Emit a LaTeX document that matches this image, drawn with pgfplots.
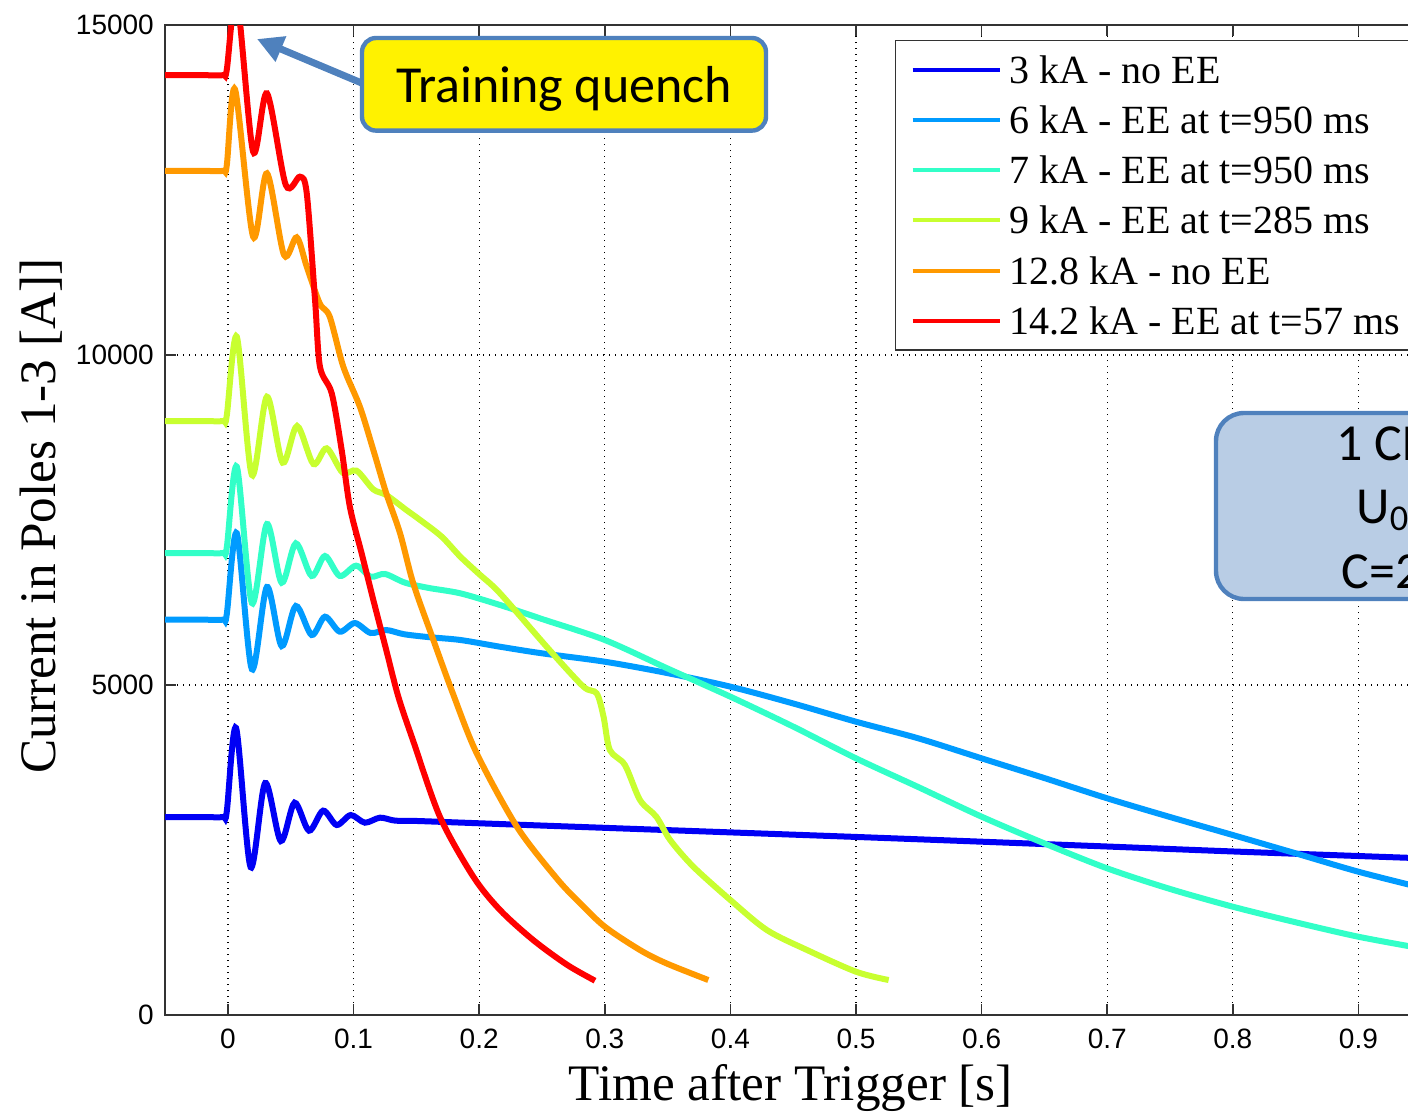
\documentclass[border=0pt]{standalone}
\usepackage{pgfplots}
\pgfplotsset{compat=1.18}
\usepackage{fontspec}
\setmainfont{Liberation Serif}
\newfontfamily\arialf{Liberation Sans}
\newfontfamily\calibri{Carlito}
\usetikzlibrary{arrows.meta}
\definecolor{cA}{RGB}{0,0,245}
\definecolor{cB}{RGB}{0,155,255}
\definecolor{cC}{RGB}{50,255,200}
\definecolor{cD}{RGB}{200,255,48}
\definecolor{cE}{RGB}{255,153,0}
\definecolor{cF}{RGB}{255,0,0}
\definecolor{boxblue}{HTML}{4F81BD}
\definecolor{boxfill}{HTML}{B9CDE5}
\begin{document}
\begin{tikzpicture}
\useasboundingbox (0,0) rectangle (704pt,-556.5pt);
\clip (0,0) rectangle (704pt,-556.5pt);
\begin{axis}[
  at={(82.6pt,-507.5pt)}, anchor=south west,
  scale only axis, width=628pt, height=495pt,
  xmin=-0.05, xmax=0.95, ymin=0, ymax=15000,
  xtick={0,0.1,0.2,0.3,0.4,0.5,0.6,0.7,0.8,0.9},
  xticklabels={0,0.1,0.2,0.3,0.4,0.5,0.6,0.7,0.8,0.9},
  ytick={0,5000,10000,15000},
  yticklabels={0,5000,10000,15000},
  scaled y ticks=false,
  /pgf/number format/assume math mode=true,
  ticklabel style={font=\arialf\fontsize{14}{16}\selectfont},
  xticklabel style={anchor=north, inner sep=0pt, yshift=-7pt},
  yticklabel style={anchor=east, inner sep=0pt, xshift=-5.5pt},
  grid=major,
  grid style={black, line width=0.6pt, dash pattern=on 0.6pt off 2.4pt},
  tick align=inside, major tick length=5.5pt,
  tick style={black!80, line width=0.8pt},
  axis line style={black!80, line width=0.8pt},
  xlabel={Time after Trigger [s]},
  ylabel={Current in Poles 1-3 [A]]},
  label style={font=\fontsize{25.6}{29}\selectfont},
  xlabel style={at={(axis description cs:0.498,-0.0859)}, anchor=base},
  ylabel style={at={(axis description cs:-0.0876,0.504)}, anchor=base},
  legend style={at={(axis description cs:0.581,0.9848)}, anchor=north west,
    draw=black!80, line width=0.7pt, fill=white,
    inner xsep=7.5pt, inner ysep=2pt,
    font=\fontsize{20}{24}\selectfont,
    nodes={inner sep=0pt, text height=19.3pt, text depth=5.8pt},
    column sep=4pt, row sep=0pt},
  legend cell align=left,
  legend image code/.code={\draw[#1, line width=2pt] (0pt,0pt) -- (43.5pt,0pt);},
  every axis plot/.append style={line width=3pt, smooth, tension=0.5},
]
\addplot[cA] table {
-0.05 3000
-0.02 3000
-0.004 3000
-0.001 3080
0.0064 4350
0.018 2240
0.0296 3515
0.042 2636
0.053 3217
0.0645 2793
0.0757 3096
0.0865 2879
0.0977 3030
0.109 2914
0.121 2990
0.133 2945
0.15 2940
0.2 2905
0.3 2836
0.4 2767
0.5 2698
0.6 2626
0.7 2553
0.8 2478
0.9 2409
0.95 2375
};
\addlegendentry{3 kA - no EE}
\addplot[cB] table {
-0.05 5990
-0.02 5990
-0.004 5990
-0.001 6070
0.007 7300
0.019 5240
0.031 6485
0.0427 5590
0.054 6197
0.0666 5758
0.0772 6035
0.089 5808
0.101 5939
0.1136 5788
0.126 5833
0.14 5770
0.16 5725
0.185 5682
0.2166 5580
0.25 5480
0.3 5353
0.35 5180
0.4 4975
0.45 4720
0.5 4444
0.55 4190
0.6 3889
0.65 3590
0.7 3283
0.75 3000
0.8 2727
0.85 2450
0.9 2171
0.95 1930
};
\addlegendentry{6 kA - EE at t=950 ms}
\addplot[cC] table {
-0.05 7000
-0.02 7000
-0.004 7000
-0.001 7080
0.007 8308
0.019 6242
0.031 7439
0.0427 6550
0.054 7146
0.0666 6652
0.0772 6955
0.089 6652
0.102 6808
0.1136 6641
0.125 6682
0.141 6550
0.16 6470
0.185 6389
0.2166 6212
0.25 6000
0.3 5682
0.35 5250
0.4 4823
0.45 4370
0.5 3889
0.55 3450
0.6 3005
0.65 2600
0.7 2222
0.75 1910
0.8 1641
0.85 1405
0.9 1186
0.95 1010
};
\addlegendentry{7 kA - EE at t=950 ms}
\addplot[cD] table {
-0.05 9000
-0.02 9000
-0.004 9000
-0.001 9080
0.007 10277
0.019 8182
0.031 9368
0.0435 8369
0.055 8924
0.068 8348
0.0786 8586
0.0913 8217
0.1024 8247
0.1156 7965
0.126 7879
0.142 7652
0.153 7500
0.17 7250
0.185 6944
0.2 6680
0.2166 6389
0.256 5530
0.283 4975
0.2935 4874
0.299 4520
0.304 4015
0.316 3788
0.328 3258
0.341 3005
0.352 2652
0.3705 2247
0.4 1742
0.429 1288
0.461 985
0.5 656
0.526 530
};
\addlegendentry{9 kA - EE at t=285 ms}
\addplot[cE] table {
-0.05 12790
-0.02 12790
-0.004 12790
-0.001 12870
0.0056 14025
0.020 11793
0.031 12753
0.0446 11515
0.0547 11783
0.0627 11338
0.073 10783
0.081 10580
0.0918 9823
0.105 9217
0.1157 8561
0.126 7904
0.137 7298
0.1475 6540
0.1635 5682
0.179 4874
0.198 3965
0.23 2853
0.2617 2070
0.28 1700
0.3 1338
0.328 985
0.349 783
0.3824 530
};
\addlegendentry{12.8 kA - no EE}
\addplot[cF] table {
-0.05 14240
-0.02 14240
-0.004 14240
-0.001 14320
0.007 15400
0.020 13081
0.031 13965
0.046 12576
0.0573 12702
0.0627 12450
0.0693 10833
0.0732 9823
0.0826 9419
0.0905 8561
0.097 7702
0.1064 6995
0.1157 6288
0.126 5530
0.1356 4823
0.1475 4150
0.1688 3000
0.1953 2096
0.2166 1591
0.243 1136
0.27 760
0.2922 520
};
\addlegendentry{14.2 kA - EE at t=57 ms}
\end{axis}
\draw[boxblue, line width=3.5pt, -{Triangle[length=13pt,width=13pt]}] (182pt,-42pt) -- (128.5pt,-19.5pt);
\draw[boxblue, line width=2.2pt, fill=yellow, rounded corners=7pt] (181pt,-19pt) rectangle (383pt,-65.3pt);
\node[anchor=base, inner sep=0pt, font=\calibri\fontsize{26}{30}\selectfont] at (282pt,-51.5pt) {Training quench};
\draw[boxblue, line width=2.2pt, fill=boxfill, rounded corners=14pt] (608pt,-206.5pt) rectangle (830pt,-299.5pt);
\node[anchor=base west, inner sep=0pt, font=\calibri\fontsize{26}{30}\selectfont] at (668pt,-230pt) {1 CLIQ unit};
\node[anchor=base west, inner sep=0pt, font=\calibri\fontsize{26}{30}\selectfont] at (678pt,-261.5pt) {U\textsubscript{0}=500 V};
\node[anchor=base west, inner sep=0pt, font=\calibri\fontsize{26}{30}\selectfont] at (670.5pt,-294pt) {C=20 mF};
\end{tikzpicture}
\end{document}
